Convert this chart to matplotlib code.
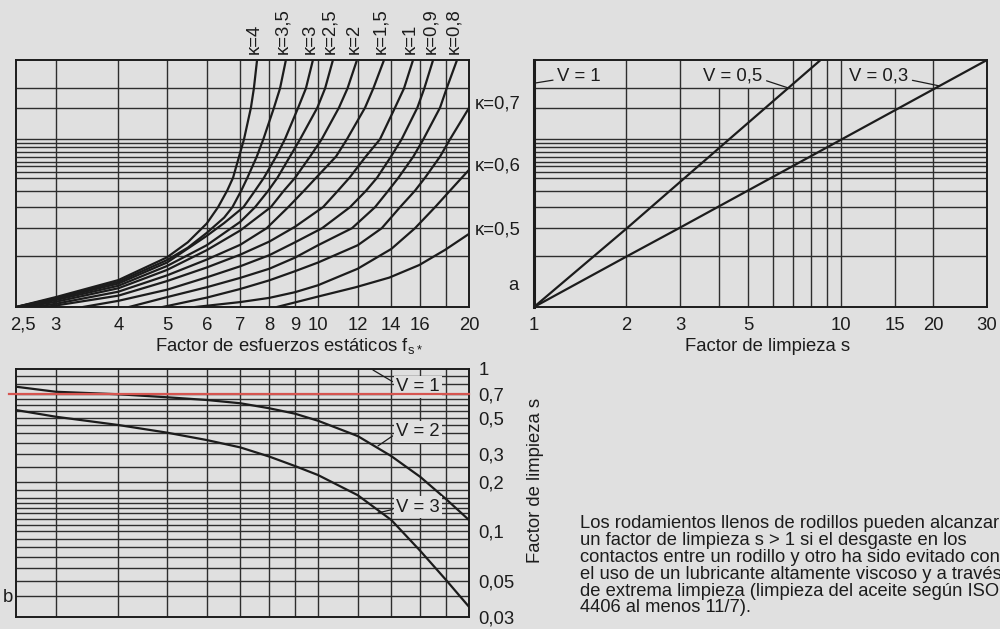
import matplotlib.pyplot as plt
from matplotlib.ticker import NullLocator, NullFormatter
from matplotlib.transforms import ScaledTranslation

plt.rcParams['font.family'] = ['Liberation Sans', 'DejaVu Sans']
plt.rcParams['mathtext.fontset'] = 'custom'
plt.rcParams['mathtext.rm'] = 'Liberation Sans'

BG = '#e0e0e0'
INK = '#1c1c1c'
GRID = '#2e2e2e'
RED = '#d65550'
FS = 13.3

# ---------------- diagram a, left: fs* -> auxiliary scale (0..1) ----------------
fs_ticks = [2.5, 3, 4, 5, 6, 7, 8, 9, 10, 12, 14, 16, 20]
fs_ticklabels = ['2,5', '3', '4', '5', '6', '7', '8', '9', '10', '12', '14', '16', '20']
fs_grid = [3, 4, 5, 6, 7, 8, 9, 10, 12, 14, 16, 18]
a_grid = [0.206, 0.319, 0.404, 0.471, 0.523, 0.547, 0.571, 0.588, 0.609,
          0.629, 0.648, 0.663, 0.679, 0.807, 0.885]

k4_f = [2.5, 3.0, 4.0, 5.0, 5.5, 6.0, 6.32, 6.59, 6.77, 6.96, 7.12, 7.35, 7.45, 7.56]
k4_a = [0.0, 0.040, 0.109, 0.201, 0.262, 0.338, 0.404, 0.471, 0.523, 0.609, 0.679, 0.807, 0.885, 1.0]
k35_f = [2.5, 3.0, 4.0, 5.0, 5.5, 6.0, 6.5, 6.75, 7.03, 7.23, 7.55, 7.78, 8.17, 8.40, 8.63]
k35_a = [0.0, 0.036, 0.102, 0.190, 0.240, 0.300, 0.362, 0.404, 0.471, 0.523, 0.609, 0.679, 0.807, 0.885, 1.0]
k3_f = [2.5, 3.0, 4.0, 5.0, 6.0, 6.5, 7.10, 7.49, 7.80, 8.25, 8.59, 9.13, 9.46, 9.77]
k3_a = [0.0, 0.033, 0.095, 0.180, 0.288, 0.340, 0.404, 0.471, 0.523, 0.609, 0.679, 0.807, 0.885, 1.0]
k25_f = [2.55, 3.0, 4.0, 5.0, 6.0, 7.0, 7.49, 7.96, 8.30, 8.79, 9.21, 9.97, 10.33, 10.71]
k25_a = [0.0, 0.028, 0.086, 0.166, 0.250, 0.345, 0.404, 0.471, 0.523, 0.609, 0.679, 0.807, 0.885, 1.0]
k2_f = [2.6, 3.0, 4.0, 5.0, 6.0, 7.0, 8.05, 8.55, 9.00, 9.64, 10.17, 11.01, 11.45, 11.96]
k2_a = [0.0, 0.021, 0.076, 0.150, 0.230, 0.310, 0.404, 0.471, 0.523, 0.609, 0.679, 0.807, 0.885, 1.0]
k15_f = [2.7, 3.0, 4.0, 5.0, 6.0, 7.0, 7.90, 8.72, 9.38, 9.91, 10.86, 11.42, 12.41, 12.89, 13.54]
k15_a = [0.0, 0.013, 0.062, 0.128, 0.192, 0.252, 0.319, 0.404, 0.471, 0.523, 0.609, 0.679, 0.807, 0.885, 1.0]
k1_f = [2.85, 3.0, 4.0, 5.0, 6.0, 7.0, 8.0, 9.0, 10.23, 10.96, 11.55, 12.45, 13.29, 14.24, 14.84, 15.47]
k1_a = [0.0, 0.006, 0.046, 0.105, 0.160, 0.212, 0.265, 0.325, 0.404, 0.471, 0.523, 0.609, 0.679, 0.807, 0.885, 1.0]
k09_f = [3.4, 4.0, 5.0, 6.0, 7.0, 8.0, 9.0, 10.19, 11.58, 12.47, 13.11, 13.98, 14.68, 15.78, 16.29, 16.96]
k09_a = [0.0, 0.025, 0.070, 0.120, 0.165, 0.210, 0.262, 0.319, 0.404, 0.471, 0.523, 0.609, 0.679, 0.807, 0.885, 1.0]
k08_f = [4.2, 5.0, 6.0, 7.0, 8.0, 9.0, 10.0, 11.69, 12.99, 13.81, 14.46, 15.49, 16.22, 17.51, 18.05, 18.93]
k08_a = [0.0, 0.040, 0.080, 0.118, 0.155, 0.200, 0.250, 0.319, 0.404, 0.471, 0.523, 0.609, 0.679, 0.807, 0.885, 1.0]
k07_f = [4.9, 6.0, 7.0, 8.0, 9.0, 10.0, 12.0, 13.4, 14.57, 15.61, 16.34, 17.51, 18.33, 20.0]
k07_a = [0.0, 0.038, 0.073, 0.108, 0.145, 0.180, 0.250, 0.319, 0.404, 0.471, 0.523, 0.609, 0.679, 0.806]
k06_f = [5.7, 7.0, 8.0, 9.0, 10.0, 12.0, 14.0, 15.61, 17.11, 18.33, 19.34, 20.0]
k06_a = [0.0, 0.020, 0.037, 0.060, 0.088, 0.155, 0.235, 0.319, 0.404, 0.471, 0.523, 0.555]
k05_f = [8.28, 9.99, 11.89, 13.87, 15.92, 17.91, 20.0]
k05_a = [0.0, 0.042, 0.080, 0.119, 0.170, 0.231, 0.296]

top_kappa = [('κ=4', k4_f, k4_a), ('κ=3,5', k35_f, k35_a), ('κ=3', k3_f, k3_a),
             ('κ=2,5', k25_f, k25_a), ('κ=2', k2_f, k2_a), ('κ=1,5', k15_f, k15_a),
             ('κ=1', k1_f, k1_a), ('κ=0,9', k09_f, k09_a), ('κ=0,8', k08_f, k08_a)]
side_kappa = [('κ=0,7', k07_f, k07_a), ('κ=0,6', k06_f, k06_a), ('κ=0,5', k05_f, k05_a)]

# ---------------- diagram a, right: auxiliary scale -> cleanliness factor s ----------------
s_ticks = [1, 2, 3, 5, 10, 15, 20, 30]
s_ticklabels = ['1', '2', '3', '5', '10', '15', '20', '30']
s_grid_full = [2, 3, 7, 8, 9, 10, 20]
s_grid_short = [4, 5, 6, 15]
v05_s = [1.0, 2.0, 4.0, 8.6]
v05_a = [0.0, 0.317, 0.642, 1.0]
v03_s = [1.0, 2.0, 3.0, 30.0]
v03_a = [0.0, 0.204, 0.322, 1.0]

# ---------------- diagram b: fs* -> cleanliness factor s ----------------
b_fs = [2.5, 3, 4, 5, 6, 7, 8, 9, 10, 12, 14, 16, 18, 20]
v2_s = [0.773, 0.720, 0.695, 0.666, 0.641, 0.612, 0.570, 0.528, 0.478, 0.385, 0.290, 0.216, 0.158, 0.1176]
v3_s = [0.556, 0.506, 0.450, 0.404, 0.364, 0.328, 0.288, 0.252, 0.222, 0.167, 0.1176, 0.0759, 0.0504, 0.0345]
b_ticks = [1, 0.7, 0.5, 0.3, 0.2, 0.1, 0.05, 0.03]
b_ticklabels = ['1', '0,7', '0,5', '0,3', '0,2', '0,1', '0,05', '0,03']
b_grid = [0.04, 0.05, 0.06, 0.07, 0.08, 0.09, 0.1, 0.11, 0.12, 0.13, 0.14, 0.15, 0.16,
          0.18, 0.2, 0.25, 0.3, 0.35, 0.4, 0.45, 0.5, 0.55, 0.6, 0.65, 0.7, 0.8, 0.9]
red_s = 0.7

note_lines = ['Los rodamientos llenos de rodillos pueden alcanzar',
              'un factor de limpieza s > 1 si el desgaste en los',
              'contactos entre un rodillo y otro ha sido evitado con',
              'el uso de un lubricante altamente viscoso y a través',
              'de extrema limpieza (limpieza del aceite según ISO',
              '4406 al menos 11/7).']

W, H = 1000, 629


def box(x0, y0, x1, y1):
    """pixel box (top-left origin) -> figure fraction rect"""
    return [x0 / W, 1 - y1 / H, (x1 - x0) / W, (y1 - y0) / H]


def style(ax):
    # call after the scales are set, set_xscale resets the locators
    ax.set_facecolor(BG)
    for sp in ax.spines.values():
        sp.set_color(INK)
        sp.set_linewidth(1.4)
        sp.set_zorder(5)
    ax.tick_params(which='both', length=0, labelsize=FS, colors=INK)
    ax.xaxis.set_minor_locator(NullLocator())
    ax.xaxis.set_minor_formatter(NullFormatter())
    ax.yaxis.set_minor_locator(NullLocator())
    ax.yaxis.set_minor_formatter(NullFormatter())


fig = plt.figure(figsize=(10, 6.29), dpi=100, facecolor=BG)
ax_a = fig.add_axes(box(16, 60, 469, 307))
ax_r = fig.add_axes(box(534, 60, 987, 307))
ax_b = fig.add_axes(box(16, 368.5, 469, 616.7))
grid_kw = dict(color=GRID, lw=1.0, zorder=1)
curve_kw = dict(color=INK, lw=1.6, zorder=3, solid_joinstyle='round')

# --- top left
ax_a.set_xscale('log')
style(ax_a)
ax_a.set_xlim(2.5, 20)
ax_a.set_ylim(0, 1)
ax_a.set_xticks(fs_ticks)
ax_a.set_xticklabels(fs_ticklabels)
ax_a.set_yticks([])
ax_a.tick_params(axis='x', pad=7)
ax_a.vlines(fs_grid, 0, 1, **grid_kw)
ax_a.hlines(a_grid, 2.5, 20, **grid_kw)
for lab, f, a in top_kappa:
    ax_a.plot(f, a, **curve_kw)
    ax_a.annotate(lab, xy=(f[-1], a[-1]), xytext=(-2, 4), textcoords='offset points',
                  rotation=90, ha='center', va='bottom', fontsize=FS, color=INK,
                  annotation_clip=False)
for lab, f, a in side_kappa:
    ax_a.plot(f, a, **curve_kw)
    ax_a.annotate(lab, xy=(f[-1], a[-1]), xytext=(4, 3), textcoords='offset points',
                  ha='left', va='center', fontsize=FS, color=INK, annotation_clip=False)
first = ax_a.get_xticklabels()[0]
first.set_transform(first.get_transform() + ScaledTranslation(0.07, 0, fig.dpi_scale_trans))

# --- top right
ax_r.set_xscale('log')
style(ax_r)
ax_r.set_xlim(1, 30)
ax_r.set_ylim(0, 1)
ax_r.set_xticks(s_ticks)
ax_r.set_xticklabels(s_ticklabels)
ax_r.set_yticks([])
ax_r.tick_params(axis='x', pad=7)
ax_r.spines['left'].set_linewidth(2.2)
ax_r.vlines(s_grid_full, 0, 1, **grid_kw)
ax_r.vlines(s_grid_short, 0, a_grid[-1], **grid_kw)
ax_r.hlines(a_grid, 1, 30, **grid_kw)
ax_r.plot(v05_s, v05_a, **curve_kw)
ax_r.plot(v03_s, v03_a, **curve_kw)
lead = dict(arrowstyle='-', color=INK, lw=0.9, shrinkA=1, shrinkB=0)
ax_r.annotate('V = 1', xy=(1, 0.906), xytext=(1.19, 0.935), ha='left', va='center',
              fontsize=FS, color=INK, arrowprops=dict(lead, relpos=(0, 0.3)))
ax_r.annotate('V = 0,5', xy=(6.74, 0.887), xytext=(4.45, 0.935), ha='center', va='center',
              fontsize=FS, color=INK, arrowprops=dict(lead, relpos=(1, 0.3)))
ax_r.annotate('V = 0,3', xy=(21.0, 0.895), xytext=(13.3, 0.935), ha='center', va='center',
              fontsize=FS, color=INK, arrowprops=dict(lead, relpos=(1, 0.3)))

# --- bottom
ax_b.set_xscale('log')
ax_b.set_yscale('log')
style(ax_b)
ax_b.set_xlim(2.5, 20)
ax_b.set_ylim(0.03, 1)
ax_b.set_xticks([])
ax_b.yaxis.tick_right()
ax_b.set_yticks(b_ticks)
ax_b.set_yticklabels(b_ticklabels)
ax_b.tick_params(axis='y', pad=7)
ax_b.vlines(fs_grid, 0.03, 1, **grid_kw)
ax_b.hlines(b_grid, 2.5, 20, **grid_kw)
ax_b.plot(b_fs, v2_s, **curve_kw)
ax_b.plot(b_fs, v3_s, **curve_kw)
ax_b.plot([2.42, 20], [red_s, red_s], color=RED, lw=1.6, zorder=6, clip_on=False)
lab_box = dict(boxstyle='square,pad=0.12', fc=BG, ec='none')
ax_b.annotate('V = 1', xy=(12.87, 0.979), xytext=(15.8, 0.77), ha='center', va='center',
              fontsize=FS, color=INK, bbox=lab_box, zorder=4,
              arrowprops=dict(lead, relpos=(0, 0.7)))
ax_b.annotate('V = 2', xy=(13.17, 0.335), xytext=(15.8, 0.408), ha='center', va='center',
              fontsize=FS, color=INK, bbox=lab_box, zorder=4,
              arrowprops=dict(lead, relpos=(0, 0.4)))
ax_b.annotate('V = 3', xy=(13.17, 0.13), xytext=(15.8, 0.1413), ha='center', va='center',
              fontsize=FS, color=INK, bbox=lab_box, zorder=4,
              arrowprops=dict(lead, relpos=(0, 0.4)))

# --- axis titles and notes
fig.text(155 / W, 1 - 346 / H, 'Factor de esfuerzos estáticos f$_{\\mathregular{s*}}$',
         ha='left', va='center', fontsize=FS, color=INK)
fig.text(768 / W, 1 - 346 / H, 'Factor de limpieza s', ha='center', va='center',
         fontsize=FS, color=INK)
fig.text(535 / W, 1 - 480 / H, 'Factor de limpieza s', rotation=90, ha='center',
         va='center', fontsize=FS, color=INK)
fig.text(513 / W, 1 - 285 / H, 'a', ha='center', va='center', fontsize=FS, color=INK)
fig.text(8 / W, 1 - 598 / H, 'b', ha='center', va='center', fontsize=FS, color=INK)
for i, line in enumerate(note_lines):
    fig.text(580 / W, 1 - (528 + i * 16.9) / H, line, ha='left', va='baseline',
             fontsize=13.25, color=INK)

fig.savefig('out.png', dpi=100, facecolor=BG)
